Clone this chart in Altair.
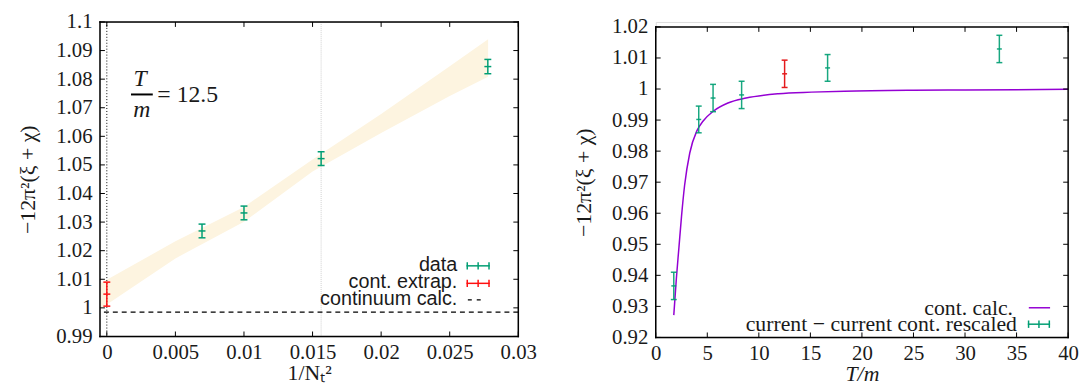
import altair as alt
import pandas as pd

# ---------------- data ----------------
# left panel  (T/m = 12.5)
inv_nt2 = [0.00694, 0.01, 0.015625, 0.02778]
data_val = [1.0269, 1.0332, 1.0522, 1.0844]
data_err = [0.0024, 0.0024, 0.0024, 0.0025]
extrap_x = [0.0]
extrap_val = [1.0048]
extrap_err = [0.0042]
cont_calc_level = [0.9985]
band_x = [-0.0005, 0.0, 0.005, 0.01, 0.015, 0.02, 0.025, 0.0278]
band_lo = [0.9996, 1.0012, 1.0173, 1.0301, 1.0477, 1.0612, 1.0741, 1.0808]
band_hi = [1.0085, 1.0098, 1.0233, 1.0353, 1.0519, 1.0678, 1.0845, 1.0940]
dotted_x = [0.0]
gray_x = [0.015625]
left_xticks = [0, 0.005, 0.01, 0.015, 0.02, 0.025, 0.03]
left_yticks = [0.99, 1.0, 1.01, 1.02, 1.03, 1.04, 1.05, 1.06, 1.07, 1.08, 1.09, 1.1]

# right panel
tm_x = [1.75, 4.17, 5.56, 8.33, 16.67, 33.33]
tm_val = [0.9366, 0.9902, 0.9971, 0.9981, 1.0068, 1.0129]
tm_err = [0.0044, 0.0043, 0.0044, 0.0044, 0.0043, 0.0044]
tm_red_x = [12.5]
tm_red_val = [1.0049]
tm_red_err = [0.0044]
calc_x = [1.75, 2.0, 2.25, 2.5, 2.8, 3.3, 4.0, 4.6, 5.6, 7.0, 8.76, 11.9, 15.1, 18.3, 25.0, 30.0, 40.0]
calc_y = [0.9272, 0.9390, 0.9490, 0.9590, 0.9690, 0.9794, 0.9866, 0.9897, 0.9929, 0.9955,
          0.9971, 0.9985, 0.9990, 0.9993, 0.9996, 0.9997, 0.9999]
right_xticks = [0, 5, 10, 15, 20, 25, 30, 35, 40]
right_yticks = [0.92, 0.93, 0.94, 0.95, 0.96, 0.97, 0.98, 0.99, 1.0, 1.01, 1.02]

# ---------------- style ----------------
SERIF = "Liberation Serif"
SANS = "Liberation Sans"
GREEN = "#009e73"
RED = "#ff1010"
RED2 = "#e41a1c"
PURPLE = "#9400d3"
BAND = "#fdf4e0"
TXT = "#1a1a1a"


def one():
    return alt.Chart(alt.Data(values=[{"k": 0}]))


def hrule(x1, x2, y, color, width=1.5, dash=None):
    kw = dict(color=color, strokeWidth=width, strokeCap="square")
    if dash:
        kw["strokeDash"] = dash
        kw["strokeCap"] = "butt"
    return one().mark_rule(**kw).encode(x=alt.value(x1), x2=alt.value(x2), y=alt.value(y))


def vrule(x, y1, y2, color, width=1.5):
    return one().mark_rule(color=color, strokeWidth=width, strokeCap="square").encode(
        x=alt.value(x), y=alt.value(y1), y2=alt.value(y2))


def text(s, x, y, font, size, align="right", style="normal"):
    return one().mark_text(text=s, font=font, fontSize=size, align=align, baseline="middle",
                           color=TXT, fontStyle=style).encode(x=alt.value(x), y=alt.value(y))


def eb_symbol(x1, x2, y, color):
    xm = (x1 + x2) / 2
    return [hrule(x1, x2, y, color), vrule(x1, y - 3, y + 3, color),
            vrule(x2, y - 3, y + 3, color), vrule(xm, y - 3, y + 3, color)]


class Panel:
    def __init__(self, W, H, top, xdom, ydom, xticks, yticks, xtitle, ytitle, xitalic):
        self.W, self.H, self.top = W, H, top
        self.xs = alt.Scale(domain=xdom, nice=False, zero=False)
        self.ys = alt.Scale(domain=ydom, nice=False, zero=False, range=[H, top])
        common = dict(ticks=False, domain=False, grid=False, labelFont=SERIF,
                      labelFontSize=21, labelColor=TXT, labelOverlap=False,
                      titleFont=SERIF, titleFontWeight="normal", titleColor=TXT)
        self.xaxis = alt.Axis(values=xticks, format="~g", labelPadding=5, labelFlush=False,
                              titleFontSize=22, titlePadding=1,
                              titleFontStyle="italic" if xitalic else "normal", **common)
        self.yaxis = alt.Axis(values=yticks, format="~g", labelPadding=8,
                              titleFontSize=22, titlePadding=16, **common)
        self.xtitle, self.ytitle = xtitle, ytitle
        self.xticks, self.yticks = xticks, yticks

    def X(self, f):
        return alt.X(f, type="quantitative", scale=self.xs, axis=self.xaxis, title=self.xtitle)

    def Y(self, f):
        return alt.Y(f, type="quantitative", scale=self.ys, axis=self.yaxis, title=self.ytitle)

    def frame_and_ticks(self):
        W, H, T = self.W, self.H, self.top
        tx = alt.Chart(pd.DataFrame({"v": self.xticks}))
        ty = alt.Chart(pd.DataFrame({"v": self.yticks}))
        st = dict(color="#000", strokeWidth=1)
        return [
            tx.mark_rule(**st).encode(x=self.X("v"), y=alt.value(H), y2=alt.value(H - 5)),
            tx.mark_rule(**st).encode(x=self.X("v"), y=alt.value(T), y2=alt.value(T + 5)),
            ty.mark_rule(**st).encode(y=self.Y("v"), x=alt.value(0), x2=alt.value(5)),
            ty.mark_rule(**st).encode(y=self.Y("v"), x=alt.value(W), x2=alt.value(W - 5)),
            hrule(0, W, T, "#000"), hrule(0, W, H, "#000"),
            vrule(0, T, H, "#000"), vrule(W, T, H, "#000"),
        ]

    def errbars(self, xs, ys, es, color, cap=7, mid=7, opacity=1.0):
        df = pd.DataFrame({"x": xs, "y": ys, "e": es})
        df["lo"] = df["y"] - df["e"]
        df["hi"] = df["y"] + df["e"]
        base = alt.Chart(df)
        return [
            base.mark_rule(color=color, strokeWidth=1.5, opacity=opacity).encode(
                x=self.X("x"), y=self.Y("lo"), y2=alt.Y2("hi")),
            base.mark_tick(orient="horizontal", size=cap, thickness=1.5, color=color,
                           opacity=opacity).encode(x=self.X("x"), y=self.Y("lo")),
            base.mark_tick(orient="horizontal", size=cap, thickness=1.5, color=color,
                           opacity=opacity).encode(x=self.X("x"), y=self.Y("hi")),
            base.mark_tick(orient="horizontal", size=mid, thickness=1.5, color=color,
                           opacity=opacity).encode(x=self.X("x"), y=self.Y("y")),
        ]


# ---------------- left panel ----------------
L = Panel(423, 318, 0, [-0.0005, 0.03], [0.99, 1.1], left_xticks, left_yticks,
          "1/Nₜ²", "−12π²(ξ + χ)", False)

band_df = pd.DataFrame({"x": band_x, "lo": band_lo, "hi": band_hi})
left_layers = [
    alt.Chart(band_df).mark_area(color=BAND, opacity=1).encode(
        x=L.X("x"), y=L.Y("lo"), y2=alt.Y2("hi")),
    alt.Chart(pd.DataFrame({"x": dotted_x})).mark_rule(
        color="#000", strokeWidth=1, strokeDash=[1, 2]).encode(x=L.X("x")),
    alt.Chart(pd.DataFrame({"x": gray_x})).mark_rule(
        color="#cfcfcf", strokeWidth=1, strokeDash=[1, 1]).encode(x=L.X("x")),
    alt.Chart(pd.DataFrame({"y": cont_calc_level})).mark_rule(
        color="#000", strokeWidth=1.2, strokeDash=[5, 4]).encode(y=L.Y("y")),
]
left_layers += L.errbars(inv_nt2, data_val, data_err, GREEN)
left_layers += L.errbars(extrap_x, extrap_val, extrap_err, RED)
left_layers += L.frame_and_ticks()
# annotation T/m = 12.5
left_layers += [
    text("T", 40.7, 58, SERIF, 24, align="center", style="italic"),
    hrule(32.4, 52.4, 73.3, "#000", width=2),
    text("m", 42.4, 88.6, SERIF, 24, align="center", style="italic"),
    text("= 12.5", 58, 74, SERIF, 24, align="left"),
]
# legend
left_layers += [
    text("data", 361.4, 245.6, SANS, 20),
    text("cont. extrap.", 361.4, 263.3, SANS, 20),
    text("continuum calc.", 361.4, 280.0, SANS, 20),
]
left_layers += eb_symbol(371.4, 393.4, 246.6, GREEN)
left_layers += eb_symbol(371.4, 393.4, 264.3, RED)
left_layers += [hrule(372, 388, 281, "#000", width=1.2, dash=[4, 5])]

left = alt.layer(*left_layers).properties(width=L.W, height=L.H)

# ---------------- right panel ----------------
R = Panel(417, 319, 5, [0, 40], [0.92, 1.02], right_xticks, right_yticks,
          "T/m", "−12π²(ξ + χ)", True)

right_layers = [
    alt.Chart(pd.DataFrame({"x": calc_x, "y": calc_y})).mark_line(
        color=PURPLE, strokeWidth=1.5, interpolate="monotone").encode(
        x=R.X("x"), y=R.Y("y")),
]
right_layers += R.errbars(tm_x, tm_val, tm_err, GREEN, cap=6, mid=5, opacity=0.9)
right_layers += R.errbars(tm_red_x, tm_red_val, tm_red_err, RED2, cap=6, mid=5)
right_layers += R.frame_and_ticks()
right_layers += [
    text("cont. calc.", 361.3, 289, SERIF, 22),
    text("current − current cont. rescaled", 365.3, 305.6, SERIF, 22),
    hrule(378, 398, 289, PURPLE, width=1.5),
]
right_layers += eb_symbol(377, 398, 305.6, GREEN)

right = alt.layer(*right_layers).properties(width=R.W, height=R.H)

chart = alt.hconcat(left, right, spacing=35).properties(
    padding={"left": 8, "top": 0, "right": 0, "bottom": 0}
).configure_view(strokeOpacity=0).configure(background="white")

chart.save("out.html", embed_options={"renderer": "svg", "actions": False})
